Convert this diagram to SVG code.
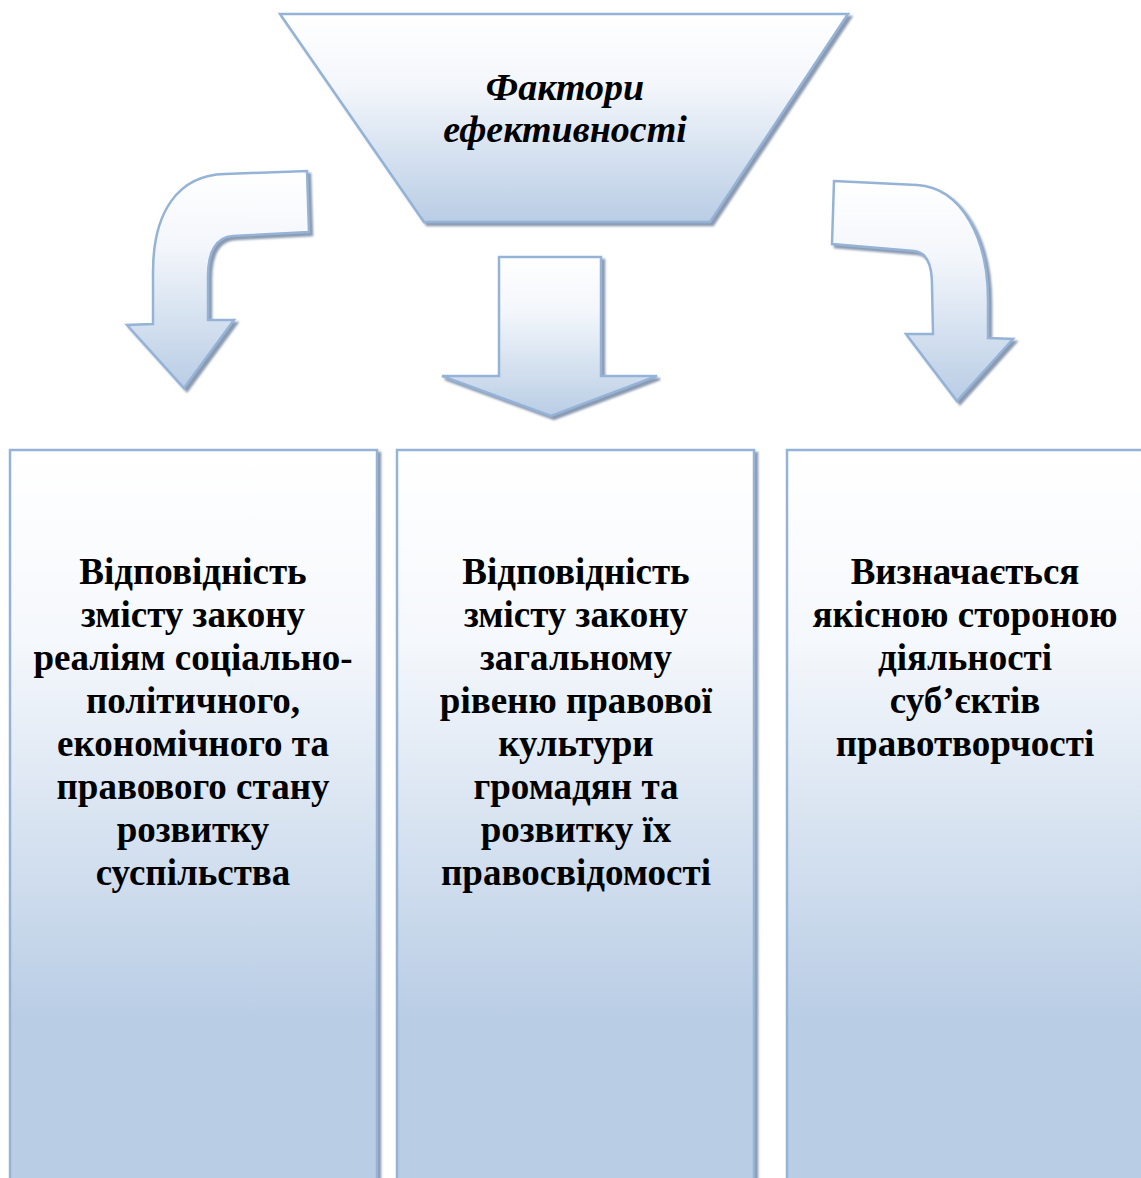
<svg xmlns="http://www.w3.org/2000/svg" width="1141" height="1178" viewBox="0 0 1141 1178">
<style>
.shape{stroke:#95b3d7;stroke-width:2.5;stroke-linejoin:miter;filter:url(#sh)}
.box{fill:url(#gBox)}
.t{font-family:"Liberation Serif","Times New Roman",serif;font-weight:bold;font-size:37px;fill:#000;text-anchor:middle}
.title{font-family:"Liberation Serif","Times New Roman",serif;font-weight:bold;font-style:italic;font-size:38px;fill:#000;text-anchor:middle}
</style>
<defs>
<linearGradient id="gBox" x1="0" y1="0" x2="0" y2="1">
<stop offset="0" stop-color="#ffffff"/>
<stop offset="0.25" stop-color="#f5f8fc"/>
<stop offset="0.75" stop-color="#b9cde5"/>
<stop offset="1" stop-color="#b9cde5"/>
</linearGradient>
<linearGradient id="gShape" x1="0" y1="0" x2="0" y2="1">
<stop offset="0" stop-color="#ffffff"/>
<stop offset="0.35" stop-color="#f3f6fb"/>
<stop offset="1" stop-color="#b9cde5"/>
</linearGradient>
<filter id="sh" x="-10%" y="-10%" width="130%" height="130%">
<feDropShadow dx="3" dy="3" stdDeviation="0.8" flood-color="#7d8ea8" flood-opacity="0.9"/>
</filter>
</defs>

<g id="factors">
<polygon class="shape" fill="url(#gShape)" points="280,14 848,14 710,222 424,222"/>
<text class="title" x="565" y="100">Фактори</text>
<text class="title" x="565" y="142">ефективності</text>
</g>

<g id="connectors">
<path id="arrow-left" class="shape" fill="url(#gShape)" d="M153 324 L153 272 C153 212 178 175 225 174 L307 171 L309 232 L233 236 C216 237 208 252 208 276 L208 320 L234 320 L184 388 L127 325 Z"/>
<path id="arrow-mid" class="shape" fill="url(#gShape)" d="M499 257 L601 257 L601 376 L657 376 L551 416 L442 376 L499 376 Z"/>
<path id="arrow-right" class="shape" fill="url(#gShape)" d="M834 181 L917 185 C963 188 988 240 988 300 L988 338 L1013 339 L957 401 L906 334 L933 334 L932 285 C932 265 927 252 914 251 L832 244 Z"/>
</g>

<g id="box1">
<rect class="shape box" x="10" y="450" width="367" height="760"/>
<text class="t" x="193" y="584">Відповідність</text>
<text class="t" x="193" y="627">змісту закону</text>
<text class="t" x="193" y="670">реаліям соціально-</text>
<text class="t" x="193" y="713">політичного,</text>
<text class="t" x="193" y="756">економічного та</text>
<text class="t" x="193" y="799">правового стану</text>
<text class="t" x="193" y="842">розвитку</text>
<text class="t" x="193" y="885">суспільства</text>
</g>

<g id="box2">
<rect class="shape box" x="397" y="450" width="357" height="760"/>
<text class="t" x="576" y="584">Відповідність</text>
<text class="t" x="576" y="627">змісту закону</text>
<text class="t" x="576" y="670">загальному</text>
<text class="t" x="576" y="713">рівеню правової</text>
<text class="t" x="576" y="756">культури</text>
<text class="t" x="576" y="799">громадян та</text>
<text class="t" x="576" y="842">розвитку їх</text>
<text class="t" x="576" y="885">правосвідомості</text>
</g>

<g id="box3">
<rect class="shape box" x="787" y="450" width="360" height="760"/>
<text class="t" x="965" y="584">Визначається</text>
<text class="t" x="965" y="627">якісною стороною</text>
<text class="t" x="965" y="670">діяльності</text>
<text class="t" x="965" y="713">суб’єктів</text>
<text class="t" x="965" y="756">правотворчості</text>
</g>
</svg>
